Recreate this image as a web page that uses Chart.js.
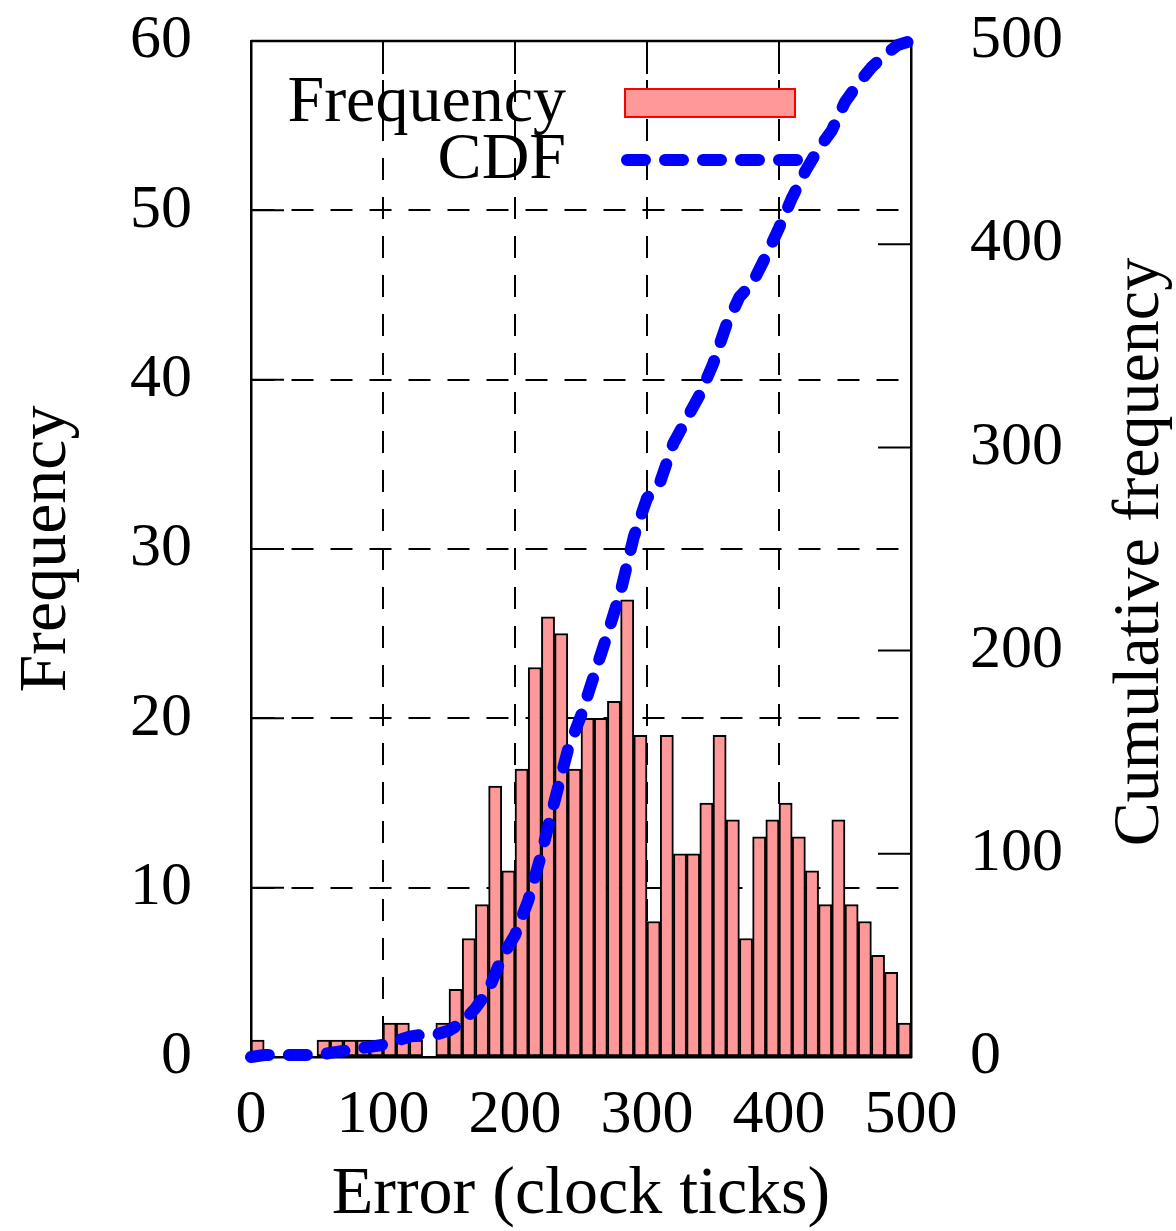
<!DOCTYPE html>
<html lang="en">
<head>
    <meta charset="UTF-8">
    <title>Error histogram</title>
    <script src="https://cdn.jsdelivr.net/npm/chart.js@4.4.1/dist/chart.umd.min.js"></script>
    <style>
        html, body { margin: 0; padding: 0; background: #fff; }
        #wrap { width: 1176px; height: 1231px; }
    </style>
</head>
<body>
<div id="wrap"><canvas id="histChart" width="1176" height="1231"></canvas></div>
<script>
// histogram: left edge of each 10-tick bin and its count
var binStarts = [0,10,20,30,40,50,60,70,80,90,100,110,120,130,140,150,160,170,180,190,
                 200,210,220,230,240,250,260,270,280,290,300,310,320,330,340,350,360,370,380,390,
                 400,410,420,430,440,450,460,470,480,490];
var frequency = [1,0,0,0,0,1,1,1,1,1,2,2,1,0,2,4,7,9,16,11,
                 17,23,26,25,17,20,20,21,27,19,8,19,12,12,15,19,14,7,13,14,
                 15,13,11,9,14,9,8,6,5,2];
// cumulative count read at each bin edge
var cdfX = [0,10,20,30,40,50,60,70,80,90,100,110,120,130,140,150,160,170,180,190,
            200,210,220,230,240,250,260,270,280,290,300,310,320,330,340,350,360,370,380,390,
            400,410,420,430,440,450,460,470,480,490,500];
var cdfY = [0,1,1,1,1,1,2,3,4,5,6,8,10,11,11,13,17,24,33,49,
            60,77,100,126,151,168,188,208,229,256,275,283,302,314,326,341,360,374,381,394,
            408,423,436,447,456,470,479,487,493,498,500];

var errorTicks = [0,100,200,300,400,500];
var freqTicks = [0,10,20,30,40,50,60];
var cumTicks = [0,100,200,300,400,500];

var FONT = "'Liberation Serif', 'Times New Roman', serif";
var BAR_FILL = '#ff9999';

var barData = binStarts.map(function (b, i) { return { x: b + 5, y: frequency[i] }; });
var cdfData = cdfX.map(function (x, i) { return { x: x, y: cdfY[i] }; });

function fixedTicks(list) {
    return function (scale) { scale.ticks = list.map(function (v) { return { value: v }; }); };
}
function hideEnds(lo, hi) {
    return function (ctx) {
        var v = ctx.tick ? ctx.tick.value : null;
        return (v === lo || v === hi) ? 'rgba(0,0,0,0)' : '#000';
    };
}
// pin the box size and drop the label overflow padding so the plot area stays put
function pinSize(w, h) {
    return function (s) {
        if (w) s.width = w;
        if (h) s.height = h;
        s.paddingTop = 0; s.paddingBottom = 0;
        s.paddingLeft = 0; s.paddingRight = 0;
    };
}

// frame, inward tick marks, right title and the legend
var decorations = {
    id: 'decorations',
    beforeDatasetsDraw: function (chart) {
        var c = chart.ctx, a = chart.chartArea;
        var x = chart.scales.x, y = chart.scales.y, y2 = chart.scales.y2;
        var len = 33;
        c.save();
        c.strokeStyle = '#000';
        c.lineWidth = 2;
        c.beginPath();
        errorTicks.slice(1, -1).forEach(function (v) {
            var px = x.getPixelForValue(v);
            c.moveTo(px, a.top); c.lineTo(px, a.top + len);
            c.moveTo(px, a.bottom); c.lineTo(px, a.bottom - len);
        });
        freqTicks.slice(1, -1).forEach(function (v) {
            var py = y.getPixelForValue(v);
            c.moveTo(a.left, py); c.lineTo(a.left + len, py);
        });
        cumTicks.slice(1, -1).forEach(function (v) {
            var py = y2.getPixelForValue(v);
            c.moveTo(a.right, py); c.lineTo(a.right - len, py);
        });
        c.stroke();
        c.lineWidth = 2.5;
        c.beginPath();
        c.moveTo(a.left, a.top); c.lineTo(a.right, a.top);
        c.stroke();
        c.restore();
    },
    afterDatasetsDraw: function (chart) {
        var c = chart.ctx;
        c.save();
        c.fillStyle = '#000';
        c.font = '66px ' + FONT;
        c.textAlign = 'right';
        c.textBaseline = 'alphabetic';
        c.fillText('Frequency', 566, 121);
        c.fillText('CDF', 566, 178);
        // legend samples
        c.fillStyle = BAR_FILL;
        c.fillRect(625, 89, 170, 28);
        c.strokeStyle = '#ff0000';
        c.lineWidth = 2;
        c.strokeRect(625, 89, 170, 28);
        c.strokeStyle = '#0000ff';
        c.lineWidth = 12;
        c.lineCap = 'round';
        c.setLineDash([18, 20]);
        c.beginPath();
        c.moveTo(627, 160); c.lineTo(800, 160);
        c.stroke();
        c.setLineDash([]);
        // right axis title, reading bottom to top
        c.translate(1141, 552);
        c.rotate(-Math.PI / 2);
        c.fillStyle = '#000';
        c.font = '66px ' + FONT;
        c.textAlign = 'center';
        c.textBaseline = 'middle';
        c.fillText('Cumulative frequency', 0, 0);
        c.restore();
    }
};

new Chart(document.getElementById('histChart'), {
    data: {
        datasets: [
            {
                type: 'line',
                label: 'CDF',
                data: cdfData,
                yAxisID: 'y2',
                borderColor: '#0000ff',
                borderWidth: 12,
                borderDash: [18, 20],
                borderCapStyle: 'round',
                borderJoinStyle: 'round',
                pointRadius: 0,
                tension: 0,
                fill: false,
                clip: false,
                order: 0
            },
            {
                type: 'bar',
                label: 'Frequency',
                data: barData,
                yAxisID: 'y',
                backgroundColor: BAR_FILL,
                borderColor: '#000',
                borderWidth: 2,
                borderSkipped: false,
                barPercentage: 1,
                categoryPercentage: 1,
                order: 1
            }
        ]
    },
    options: {
        responsive: false,
        animation: false,
        devicePixelRatio: 1,
        layout: { padding: { top: 41, left: 0, right: 0, bottom: 0 } },
        plugins: { legend: { display: false }, tooltip: { enabled: false } },
        scales: {
            x: {
                type: 'linear',
                position: 'bottom',
                offset: false,
                min: 0,
                max: 500,
                afterBuildTicks: fixedTicks(errorTicks),
                afterFit: pinSize(0, 174),
                grid: { offset: false, color: hideEnds(0, 500), lineWidth: 2, drawTicks: false },
                border: { color: '#000', width: 2.5, dash: [22, 17] },
                ticks: { color: '#000', padding: 22, maxRotation: 0, font: { family: FONT, size: 62 } },
                title: {
                    display: true, text: 'Error (clock ticks)', color: '#000',
                    font: { family: FONT, size: 68, lineHeight: 1 }, padding: { top: 0, bottom: 2 }
                }
            },
            y: {
                type: 'linear',
                position: 'left',
                min: 0,
                max: 60,
                afterBuildTicks: fixedTicks(freqTicks),
                afterFit: pinSize(251, 0),
                grid: { color: hideEnds(0, 60), lineWidth: 2, drawTicks: false },
                border: { color: '#000', width: 2.5, dash: [22, 17] },
                ticks: { color: '#000', padding: 59, font: { family: FONT, size: 62 } },
                title: {
                    display: true, text: 'Frequency', color: '#000',
                    font: { family: FONT, size: 68, lineHeight: 1 }, padding: { top: 13, bottom: 0 }
                }
            },
            y2: {
                type: 'linear',
                position: 'right',
                min: 0,
                max: 500,
                afterBuildTicks: fixedTicks(cumTicks),
                afterFit: pinSize(265, 0),
                grid: { drawOnChartArea: false, drawTicks: false },
                border: { color: '#000', width: 2.5 },
                ticks: { color: '#000', padding: 59, font: { family: FONT, size: 62 } }
            }
        }
    },
    plugins: [decorations]
});
</script>
</body>
</html>
